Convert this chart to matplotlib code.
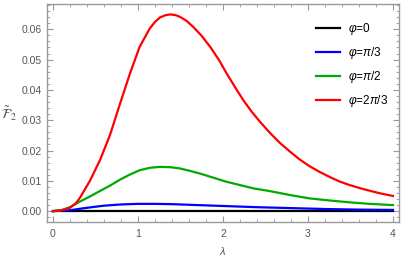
import matplotlib
matplotlib.use("Agg")
import matplotlib.pyplot as plt
from matplotlib.ticker import MultipleLocator, FormatStrFormatter

plt.rcParams['font.family'] = ['Liberation Sans', 'DejaVu Sans']
plt.rcParams['mathtext.fontset'] = 'custom'
plt.rcParams['mathtext.rm'] = 'Liberation Sans'
plt.rcParams['mathtext.it'] = 'Liberation Sans:italic'

# data
x_red = [0, 0.1, 0.2, 0.27, 0.32, 0.435, 0.553, 0.67, 0.79, 0.906, 1.02, 1.14, 1.2,
         1.26, 1.32, 1.376, 1.44, 1.494, 1.57, 1.65, 1.75, 1.85, 1.95, 2.04, 2.14,
         2.24, 2.335, 2.435, 2.553, 2.67, 2.79, 2.9, 3.02, 3.14, 3.26, 3.37, 3.49,
         3.61, 3.73, 3.86, 4.0]
y_red = [0, 0.0003, 0.0011, 0.0026, 0.0045, 0.0100, 0.0168, 0.0250, 0.0355, 0.0454,
         0.0542, 0.0603, 0.0624, 0.0639, 0.0646, 0.0649, 0.0647, 0.0641, 0.0628,
         0.0608, 0.0578, 0.0542, 0.0500, 0.0456, 0.0410, 0.0366, 0.0329, 0.0295,
         0.0258, 0.0225, 0.0196, 0.0171, 0.0148, 0.0129, 0.0112, 0.0098, 0.0086,
         0.0076, 0.0067, 0.0058, 0.0050]

x_green = [0, 0.1, 0.2, 0.27, 0.32, 0.44, 0.55, 0.67, 0.79, 0.9, 1.02, 1.14, 1.26,
           1.38, 1.49, 1.61, 1.73, 1.88, 2.04, 2.2, 2.36, 2.553, 2.79, 3.02, 3.26,
           3.49, 3.73, 4.0]
y_green = [0, 0.0003, 0.0013, 0.0024, 0.0032, 0.0049, 0.0066, 0.0084, 0.0104, 0.0120,
           0.0135, 0.0143, 0.0146, 0.0145, 0.0141, 0.0133, 0.0124, 0.0111, 0.0097,
           0.0086, 0.0075, 0.0066, 0.0053, 0.0042, 0.0035, 0.0029, 0.0024, 0.0020]

x_blue = [0, 0.2, 0.4, 0.6, 0.8, 1.0, 1.2, 1.4, 1.6, 1.8, 2.0, 2.4, 2.8, 3.2, 3.6, 4.0]
y_blue = [0, 0.0003, 0.0011, 0.0018, 0.0022, 0.0024, 0.0024, 0.0023, 0.0021, 0.0019,
          0.0017, 0.0013, 0.0010, 0.0007, 0.0005, 0.0004]

x_black = [0, 4.0]
y_black = [0, 0]

labels = [r'$\varphi$=0', r'$\varphi$=$\pi$/3', r'$\varphi$=$\pi$/2', r'$\varphi$=2$\pi$/3']

fig = plt.figure(figsize=(4.05, 2.57), dpi=100)
ax = fig.add_axes([0.116, 0.136, 0.869, 0.848])

lw = 1.6
ax.plot(x_black, y_black, color='black', lw=lw, label=labels[0])
ax.plot(x_blue, y_blue, color='#0000ff', lw=lw, label=labels[1])
ax.plot(x_green, y_green, color='#00aa00', lw=lw, label=labels[2])
ax.plot(x_red, y_red, color='#ff0000', lw=lw, label=labels[3])

ax.set_xlim(-0.07, 4.07)
ax.set_ylim(-0.0036, 0.0683)

gray = '#999999'
tgray = '#555555'
for s in ax.spines.values():
    s.set_color(gray)
    s.set_linewidth(1.0)

ax.xaxis.set_major_locator(MultipleLocator(1))
ax.xaxis.set_minor_locator(MultipleLocator(0.2))
ax.yaxis.set_major_locator(MultipleLocator(0.01))
ax.yaxis.set_minor_locator(MultipleLocator(0.002))
ax.yaxis.set_major_formatter(FormatStrFormatter('%.2f'))
ax.tick_params(which='both', direction='in', top=True, right=True, color=gray,
               labelcolor=tgray, labelsize=7.5)
ax.tick_params(which='major', length=4, width=0.8)
ax.tick_params(which='minor', length=2, width=0.6)
ax.tick_params(axis='x', pad=5)

ax.set_xlabel(r'$\lambda$', color=tgray, fontsize=8, labelpad=4)
fig.text(1 / 405, 1 - 114 / 257, r'$\tilde{\mathcal{F}}_2$', math_fontfamily='stix',
         color=tgray, fontsize=10, ha='left', va='center')

leg = ax.legend(loc='upper right', frameon=False, fontsize=8.5, handlelength=2.0,
                handletextpad=0.7, labelspacing=0.68, bbox_to_anchor=(1.0, 0.97))

fig.savefig('out.png', dpi=100)
